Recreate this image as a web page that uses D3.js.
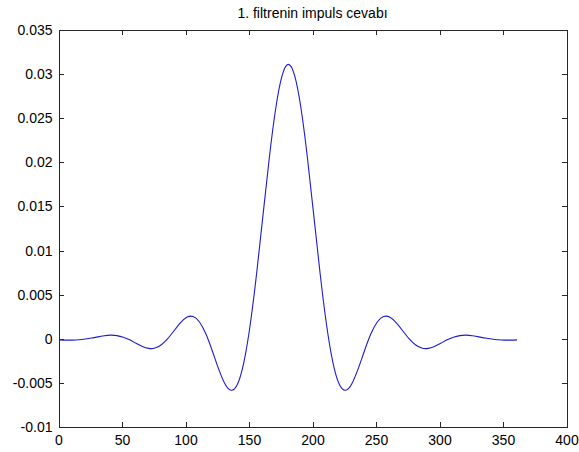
<!DOCTYPE html>
<html>

<head>
    <meta charset="utf-8" />
    <title>impuls cevabi</title>
    <script src="https://cdn.jsdelivr.net/npm/d3@7/dist/d3.min.js"></script>
</head>

<body>
    <style>
        html,
        body {
            margin: 0;
            padding: 0;
            background: #ffffff;
        }

        #chart text {
            font-family: "Liberation Sans", Arial, sans-serif;
            font-size: 14px;
            fill: #000;
        }

        .axis path,
        .axis line {
            stroke: #262626;
            stroke-width: 1px;
            shape-rendering: crispEdges;
        }

        .curve {
            fill: none;
            stroke: #1c1cd0;
            stroke-width: 1.1px;
        }
    </style>
    <div id="chart"></div>
    <script>
        // sample index (every 5th point of the 361 long response, 1-based like matlab)
        const samples = [1, 6, 11, 16, 21, 26, 31, 36, 41, 46, 51, 56, 61, 66, 71, 76, 81, 86, 91,
            96, 101, 106, 111, 116, 121, 126, 131, 136, 141, 146, 151, 156, 161, 166, 171, 176, 181,
            186, 191, 196, 201, 206, 211, 216, 221, 226, 231, 236, 241, 246, 251, 256, 261, 266, 271,
            276, 281, 286, 291, 296, 301, 306, 311, 316, 321, 326, 331, 336, 341, 346, 351, 356, 361];

        // impulse response
        const response = [-0.00012, -0.00015, -0.00015, -0.00011, -0.00003, 0.00008, 0.00022, 0.00034,
            0.00041, 0.00036, 0.00018, -0.00012, -0.00051, -0.00087, -0.00109, -0.00105, -0.00067,
            0.00002, 0.00091, 0.00180, 0.00243, 0.00252, 0.00190, 0.00056, -0.00133, -0.00339,
            -0.00509, -0.00584, -0.00513, -0.00264, 0.00165, 0.00740, 0.01399, 0.02052, 0.02607,
            0.02979, 0.03110,
            0.02979, 0.02607, 0.02052, 0.01399, 0.00740, 0.00165, -0.00264, -0.00513, -0.00584,
            -0.00509, -0.00339, -0.00133, 0.00056, 0.00190, 0.00252, 0.00243, 0.00180, 0.00091,
            0.00002, -0.00067, -0.00105, -0.00109, -0.00087, -0.00051, -0.00012, 0.00018, 0.00036,
            0.00041, 0.00034, 0.00022, 0.00008, -0.00003, -0.00011, -0.00015, -0.00015, -0.00012];

        const xTicks = [0, 50, 100, 150, 200, 250, 300, 350, 400];
        const yTicks = [-0.01, -0.005, 0, 0.005, 0.01, 0.015, 0.02, 0.025, 0.03, 0.035];
        const yTickLabels = ["-0.01", "-0.005", "0", "0.005", "0.01", "0.015", "0.02", "0.025", "0.03", "0.035"];
        const title = "1. filtrenin impuls cevabı";

        const W = 579, H = 452;
        const margin = { top: 30, right: 12.5, bottom: 25, left: 58.5 };
        const w = W - margin.left - margin.right;
        const h = H - margin.top - margin.bottom;

        const svg = d3.select("#chart").append("svg")
            .attr("width", W)
            .attr("height", H);

        const g = svg.append("g")
            .attr("transform", `translate(${margin.left},${margin.top})`);

        const x = d3.scaleLinear().domain([0, 400]).range([0, w]);
        const y = d3.scaleLinear().domain([-0.01, 0.035]).range([h, 0]);

        // ticks point inward, box on all four sides
        g.append("g").attr("class", "axis")
            .attr("transform", `translate(0,${h})`)
            .call(d3.axisBottom(x).tickValues(xTicks).tickSizeInner(-5).tickSizeOuter(0).tickPadding(8));

        g.append("g").attr("class", "axis")
            .call(d3.axisLeft(y).tickValues(yTicks).tickSizeInner(-5).tickSizeOuter(0).tickPadding(6)
                .tickFormat((d, i) => yTickLabels[i]));

        g.append("g").attr("class", "axis")
            .call(d3.axisTop(x).tickValues(xTicks).tickSizeInner(-5).tickSizeOuter(0).tickFormat(""));

        g.append("g").attr("class", "axis")
            .attr("transform", `translate(${w},0)`)
            .call(d3.axisRight(y).tickValues(yTicks).tickSizeInner(-5).tickSizeOuter(0).tickFormat(""));

        g.selectAll(".axis text").attr("font-size", null).attr("font-family", null);

        const line = d3.line()
            .x((d, i) => x(samples[i]))
            .y(d => y(d))
            .curve(d3.curveNatural);

        g.append("path")
            .datum(response)
            .attr("class", "curve")
            .attr("d", line);

        svg.append("text")
            .attr("x", margin.left + w / 2)
            .attr("y", 18)
            .attr("text-anchor", "middle")
            .text(title);
    </script>
</body>

</html>
